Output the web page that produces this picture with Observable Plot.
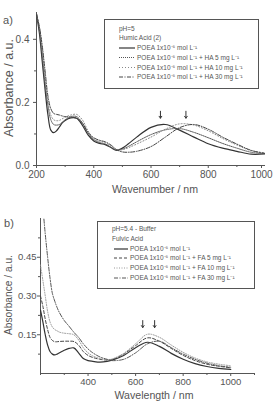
<!DOCTYPE html>
<html><head><meta charset="utf-8">
<script src="https://cdn.jsdelivr.net/npm/d3@7"></script>
<script src="https://cdn.jsdelivr.net/npm/@observablehq/plot@0.6"></script>
<style>
body{margin:0;background:#fff;font-family:"Liberation Sans",Arial,sans-serif;}
#wrap{position:relative;width:273px;height:401px;overflow:hidden;background:#fff;}
.p{position:absolute;left:0;}
.lab{position:absolute;color:#555;white-space:nowrap;line-height:1;}
.leg{position:absolute;}
</style></head><body><div id="wrap"></div>
<script>
// ---------- Panel a data (Humic Acid) ----------
const wlA = [200,210,220,230,240,250,260,270,280,290,300,320,340,360,380,400,420,440,460,480,500,520,550,600,650,700,750,800,850,900,950,1000];
const poeaA = [0.48,0.42,0.33,0.24,0.16,0.112,0.104,0.11,0.122,0.135,0.143,0.151,0.150,0.128,0.097,0.078,0.070,0.066,0.057,0.048,0.055,0.068,0.090,0.121,0.130,0.112,0.090,0.069,0.055,0.045,0.036,0.037];
const ha5 = [0.48,0.43,0.35,0.26,0.19,0.145,0.130,0.128,0.130,0.137,0.145,0.155,0.155,0.135,0.103,0.082,0.073,0.068,0.058,0.049,0.052,0.060,0.075,0.098,0.113,0.117,0.105,0.088,0.070,0.055,0.042,0.038];
const ha10 = [0.48,0.44,0.37,0.28,0.20,0.160,0.145,0.142,0.143,0.148,0.153,0.160,0.162,0.145,0.110,0.085,0.077,0.072,0.062,0.050,0.050,0.056,0.068,0.090,0.115,0.132,0.128,0.110,0.086,0.065,0.047,0.040];
const ha30 = [0.48,0.44,0.38,0.30,0.22,0.180,0.165,0.162,0.160,0.157,0.155,0.153,0.150,0.135,0.105,0.088,0.080,0.075,0.065,0.050,0.043,0.042,0.045,0.060,0.090,0.120,0.130,0.115,0.090,0.068,0.048,0.038];
const arrowsA = [{x:633, y1:0.172, y2:0.150},{x:722, y1:0.172, y2:0.150}];
const xTicksA = [200,400,600,800];
const xLastA = [1000];
const xMinorA = [300,500,700,900];
const yTicksA = [0,0.2,0.4];
const yMinorA = [0.1,0.3];

// ---------- Panel b data (Fulvic Acid) ----------
const wlB = [200,210,220,230,240,250,260,270,280,300,320,340,360,380,400,420,450,480,500,550,600,650,700,750,800,850,900,950,1000];
const poeaB = [0.245,0.20,0.15,0.11,0.085,0.075,0.072,0.075,0.080,0.090,0.097,0.099,0.080,0.058,0.050,0.047,0.044,0.047,0.052,0.070,0.100,0.121,0.105,0.078,0.055,0.038,0.027,0.020,0.016];
const fa5 = [0.30,0.26,0.21,0.17,0.14,0.128,0.123,0.123,0.124,0.125,0.125,0.124,0.110,0.085,0.070,0.062,0.055,0.052,0.054,0.075,0.108,0.138,0.125,0.097,0.070,0.050,0.036,0.028,0.022];
const fa10 = [0.42,0.36,0.30,0.24,0.20,0.180,0.170,0.165,0.160,0.156,0.154,0.150,0.130,0.100,0.080,0.068,0.058,0.054,0.056,0.078,0.115,0.152,0.140,0.110,0.082,0.060,0.045,0.036,0.030];
const fa30 = [0.72,0.64,0.54,0.45,0.37,0.31,0.28,0.255,0.235,0.205,0.183,0.160,0.140,0.115,0.095,0.080,0.064,0.055,0.050,0.055,0.080,0.115,0.125,0.100,0.075,0.055,0.040,0.030,0.024];
const arrowsB = [{x:630, y1:0.205, y2:0.178},{x:680, y1:0.205, y2:0.178}];
const xTicksB = [400,600,800,1000];
const xMinorB = [200,300,500,700,900,1100];
const yTicksB = [0.15,0.30,0.45];
const yMinorB = [0.075,0.225,0.375,0.525];

const legendA = ["POEA 1x10⁻⁵ mol L⁻¹","POEA 1x10⁻⁵ mol L⁻¹ + HA 5 mg L⁻¹","POEA 1x10⁻⁵ mol L⁻¹ + HA 10 mg L⁻¹","POEA 1x10⁻⁵ mol L⁻¹ + HA 30 mg L⁻¹"];
const legendB = ["POEA 1x10⁻⁵ mol L⁻¹","POEA 1x10⁻⁵ mol L⁻¹ + FA 5 mg L⁻¹","POEA 1x10⁻⁵ mol L⁻¹ + FA 10 mg L⁻¹","POEA 1x10⁻⁵ mol L⁻¹ + FA 30 mg L⁻¹"];

// styles
const stylesA = [
  {dash:null, w:1.2, c:"#333"},
  {dash:"1,1", w:1, c:"#555"},
  {dash:"1,2", w:1, c:"#888"},
  {dash:"4,1.5,1,1.5", w:1, c:"#444"}
];
const stylesB = [
  {dash:null, w:1.2, c:"#333"},
  {dash:"3,2", w:1, c:"#444"},
  {dash:"1,1.5", w:1, c:"#999"},
  {dash:"4,1.5,1,1.5", w:1, c:"#555"}
];

const FONT = '"Liberation Sans",Arial,sans-serif';
const rows = (wl, v) => wl.map((x,i) => ({x, y:v[i]}));

function panel(cfg){
  const lineMarks = cfg.series.map((v,i) => Plot.line(rows(cfg.wl, v), {
    x:"x", y:"y", curve:"catmull-rom", clip:true,
    stroke:cfg.styles[i].c, strokeWidth:cfg.styles[i].w,
    strokeDasharray:cfg.styles[i].dash || undefined
  }));
  const extra = cfg.xlast ? [Plot.axisX({ticks:cfg.xlast, tickSize:3, tickPadding:2, tickFormat:d=>String(d), label:null, stroke:"#555", dx:-4})] : [];
  return Plot.plot({
    width:273, height:cfg.height,
    marginLeft:cfg.ml, marginRight:cfg.mr, marginTop:cfg.mt, marginBottom:cfg.mb,
    x:{domain:cfg.xdom}, y:{domain:cfg.ydom},
    style:{fontFamily:FONT, fontSize:cfg.tickFont+"px", color:"#555", background:"transparent"},
    marks:[
      Plot.axisX({ticks:cfg.xt, tickSize:3, tickPadding:2, tickFormat:d=>String(d), label:null, stroke:"#555"}),
      ...extra,
      Plot.axisX({ticks:cfg.xm, tickSize:2, tickFormat:()=>"", label:null, stroke:"#555"}),
      Plot.axisY({ticks:cfg.yt, tickSize:3, tickPadding:cfg.ypad, tickFormat:cfg.yfmt, label:null, stroke:"#555"}),
      Plot.axisY({ticks:cfg.ym, tickSize:2, tickFormat:()=>"", label:null, stroke:"#555"}),
      Plot.ruleX([cfg.xdom[0]], {stroke:"#555", strokeWidth:1}),
      Plot.ruleY([0], {stroke:"#555", strokeWidth:1}),
      ...lineMarks,
      Plot.arrow(cfg.arrows, {x1:"x", x2:"x", y1:"y1", y2:"y2", headLength:3.5, headAngle:70, strokeWidth:1, stroke:"#333"})
    ]
  });
}

const wrap = document.getElementById("wrap");

const pa = panel({height:195, ml:36, mr:8, mt:12, mb:30, xdom:[200,1000], ydom:[0,0.485],
  xt:xTicksA, xlast:xLastA, xm:xMinorA, yt:yTicksA, ym:yMinorA, yfmt:d=>d.toFixed(1), ypad:4, tickFont:10,
  wl:wlA, series:[poeaA,ha5,ha10,ha30], styles:stylesA, arrows:arrowsA});
pa.classList.add("p"); pa.style.top="0px"; wrap.appendChild(pa);

const pb = panel({height:206, ml:40, mr:19, mt:23, mb:28, xdom:[200,1100], ydom:[0,0.6],
  xt:xTicksB, xm:xMinorB, yt:yTicksB, ym:yMinorB, yfmt:d=>d.toFixed(2), ypad:1, tickFont:9.5,
  wl:wlB, series:[poeaB,fa5,fa10,fa30], styles:stylesB, arrows:arrowsB});
pb.classList.add("p"); pb.style.top="195px"; wrap.appendChild(pb);

// text labels
function label(text, x, y, size, rot){
  const d = document.createElement("div");
  d.className = "lab"; d.textContent = text;
  d.style.fontSize = size+"px";
  d.style.left = x+"px"; d.style.top = y+"px";
  if (rot) { d.style.transform = "translate(-50%,-50%) rotate(-90deg)"; }
  else { d.style.transform = "translate(-50%,-50%)"; }
  wrap.appendChild(d);
}
label("a)", 8, 20, 11);
label("b)", 9, 223, 11);
label("Absorbance / a.u.", 9, 88, 12.5, true);
label("Absorbance / a.u.", 9, 295, 10.2, true);
label("Wavenumber / nm", 155, 189, 10.6);
label("Wavelength / nm", 154, 395, 10.6);

// legends
function legend(box, head, labels, styles){
  const svg = d3.create("svg").attr("class","leg")
    .attr("width", box.w).attr("height", box.h)
    .style("left", box.x+"px").style("top", box.y+"px")
    .style("font-family", FONT).style("font-size", box.fs+"px");
  svg.append("rect").attr("x",0.5).attr("y",0.5).attr("width",box.w-1).attr("height",box.h-1)
    .attr("fill","#fff").attr("stroke","#555").attr("stroke-width",1);
  head.forEach((t,i) => svg.append("text").attr("x", box.tx).attr("y", box.hy[i]).attr("dy","0.35em").attr("fill","#555").text(t));
  labels.forEach((t,i) => {
    const y = box.ly[i];
    svg.append("line").attr("x1", box.lx1).attr("x2", box.lx2).attr("y1", y).attr("y2", y)
      .attr("stroke", styles[i].c).attr("stroke-width", styles[i].w)
      .attr("stroke-dasharray", styles[i].dash);
    svg.append("text").attr("x", box.lx2+2).attr("y", y).attr("dy","0.35em").attr("fill","#555").text(t);
  });
  wrap.appendChild(svg.node());
}
legend({x:104, y:19, w:155, h:70, fs:6.5, tx:15, hy:[10,19], ly:[29,38.5,48.5,58], lx1:15, lx2:31}, ["pH=5","Humic Acid (2)"], legendA, stylesA);
legend({x:97, y:221, w:158, h:68, fs:6.5, tx:15, hy:[8,18], ly:[28,37,47,57], lx1:17, lx2:31}, ["pH=5.4 - Buffer","Fulvic Acid"], legendB, stylesB);
</script></body></html>
